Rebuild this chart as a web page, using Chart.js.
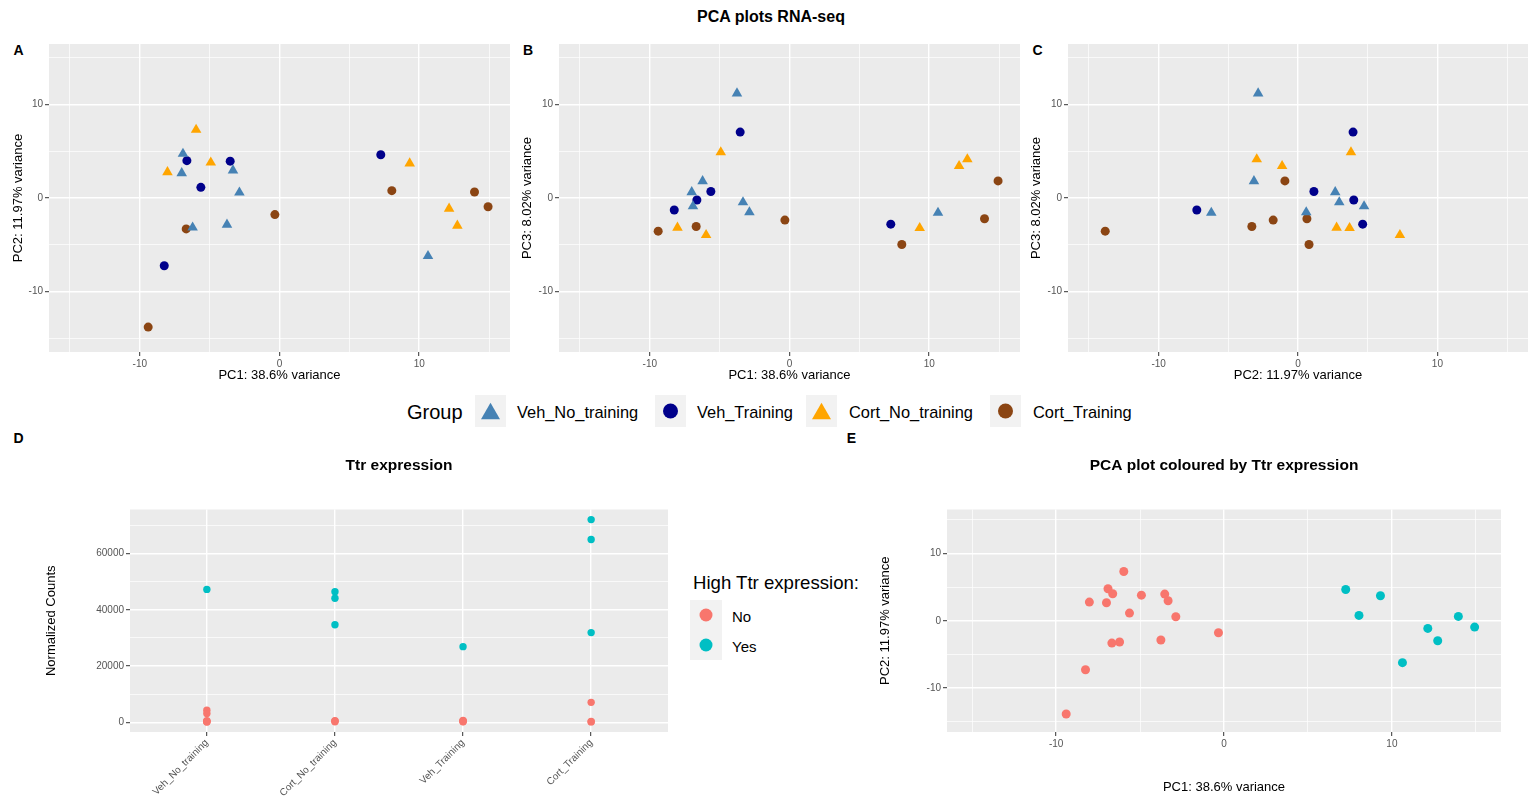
<!DOCTYPE html>
<html>
<head>
<meta charset="utf-8">
<script src="https://cdn.jsdelivr.net/npm/chart.js@4.4.1/dist/chart.umd.min.js"></script>
<style>
  html, body { margin: 0; padding: 0; background: #ffffff; }
  body { width: 1535px; height: 809px; position: relative; overflow: hidden;
         font-family: "Liberation Sans", Arial, Helvetica, sans-serif; color: #000; }
  canvas { position: absolute; display: block; }
  .t { position: absolute; white-space: nowrap; transform: translateY(-50%); line-height: 1; }
  .tc { position: absolute; white-space: nowrap; transform: translate(-50%, -50%); line-height: 1; }
  .b { font-weight: bold; }
  .key { position: absolute; background: #F2F2F2; }
  .key svg { display: block; }
</style>
</head>
<body>

<div class="tc b" style="left:771px; top:16.5px; font-size:16px;">PCA plots RNA-seq</div>
<div class="tc b" style="left:18.5px; top:50px; font-size:14px;">A</div>
<div class="tc b" style="left:528px; top:50px; font-size:14px;">B</div>
<div class="tc b" style="left:1037.5px; top:50px; font-size:14px;">C</div>
<div class="tc b" style="left:18.5px; top:438px; font-size:14px;">D</div>
<div class="tc b" style="left:851.5px; top:438px; font-size:14px;">E</div>

<canvas id="cA" width="515" height="360" style="left:0px; top:30px;"></canvas>
<canvas id="cB" width="515" height="360" style="left:515px; top:30px;"></canvas>
<canvas id="cC" width="510" height="360" style="left:1025px; top:30px;"></canvas>
<canvas id="cD" width="680" height="369" style="left:0px; top:440px;"></canvas>
<canvas id="cE" width="675" height="369" style="left:860px; top:440px;"></canvas>

<div id="groupLegend"></div>
<div id="ttrLegend"></div>

<script>
// ---------------- DATA ----------------
const groupNames  = ['Veh_No_training', 'Veh_Training', 'Cort_No_training', 'Cort_Training'];
const groupColors = ['#4682B4', '#00008B', '#FFA500', '#8B4513'];
const groupShapes = ['triangle', 'circle', 'triangle', 'circle'];

// principal component scores per group (one entry per sample)
const vehNoPC1  = [-6.91, -7.00, -3.33, -2.87, -6.22, -3.76, 10.63];
const vehNoPC2  = [ 4.74,  2.67,  2.96,  0.59, -3.16, -2.86, -6.22];
const vehNoPC3  = [-0.89,  0.62, -0.46, -1.53,  1.80, 11.20, -1.58];

const vehTrPC1  = [-6.63, -3.53, -5.63, -8.25,  7.25];
const vehTrPC2  = [ 4.00,  3.95,  1.14, -7.26,  4.64];
const vehTrPC3  = [-0.22,  7.06,  0.70, -1.29, -2.80];

const cortNoPC1 = [-5.97, -8.02, -4.92,  9.32, 12.14, 12.73];
const cortNoPC2 = [ 7.31,  2.77,  3.80,  3.70, -1.14, -2.96];
const cortNoPC3 = [-3.97, -3.18,  4.90, -3.22,  3.43,  4.15];

const cortTrPC1 = [-9.40, -6.68, -0.33,  8.04, 13.96, 14.93];
const cortTrPC2 = [-13.83, -3.31, -1.78, 0.79,  0.64, -0.94];
const cortTrPC3 = [-3.55, -3.05, -2.37, -4.98, -2.22,  1.83];

// Ttr normalized counts per sample (same sample order as above)
const vehNoTtr  = [4300, 3100, 600, 300, 200, 150, 47250];
const vehTrTtr  = [500, 300, 700, 200, 26900];
const cortNoTtr = [350, 200, 600, 46400, 44100, 34700];
const cortTrTtr = [7100, 150, 300, 72060, 65000, 31900];

const highTtrThreshold = 20000;
const highTtrLabels = ['No', 'Yes'];
const highTtrColors = ['#F8766D', '#00BFC4'];

// axes / ticks
const pcLimits = [-15, 15];
const pcTicks  = [-15, -10, -5, 0, 5, 10, 15];
const ttrTicks = [0, 10000, 20000, 30000, 40000, 50000, 60000, 70000];
const ttrCategories = ['Veh_No_training', 'Cort_No_training', 'Veh_Training', 'Cort_Training'];
const pc1Title = 'PC1: 38.6% variance';
const pc2Title = 'PC2: 11.97% variance';
const pc3Title = 'PC3: 8.02% variance';

// ---------------- HELPERS ----------------
const FONT = '"Liberation Sans", Arial, Helvetica, sans-serif';
const TICK_FONT  = { family: FONT, size: 10 };
const TITLE_FONT = { family: FONT, size: 13 };

const groupPCs = [
  { pc1: vehNoPC1,  pc2: vehNoPC2,  pc3: vehNoPC3,  ttr: vehNoTtr },
  { pc1: vehTrPC1,  pc2: vehTrPC2,  pc3: vehTrPC3,  ttr: vehTrTtr },
  { pc1: cortNoPC1, pc2: cortNoPC2, pc3: cortNoPC3, ttr: cortNoTtr },
  { pc1: cortTrPC1, pc2: cortTrPC2, pc3: cortTrPC3, ttr: cortTrTtr }
];

function expand(lo, hi, f) { const d = (hi - lo) * f; return [lo - d, hi + d]; }
const pcRange = expand(pcLimits[0], pcLimits[1], 0.05);

function isMajor(v, step) { return Math.abs(Math.round(v / step) * step - v) < 1e-9; }

const bgPlugin = {
  id: 'panelBg',
  beforeDraw(chart) {
    const { ctx, chartArea: a } = chart;
    ctx.save();
    ctx.fillStyle = '#EBEBEB';
    ctx.fillRect(a.left, a.top, a.width, a.height);
    ctx.restore();
  }
};

function axis(o) {
  return {
    type: 'linear',
    position: o.pos,
    min: o.min, max: o.max,
    afterBuildTicks: s => { s.ticks = o.ticks.map(v => ({ value: v })); },
    afterFit: s => { if (o.pos === 'left') s.width = o.size; else s.height = o.size; },
    ticks: {
      autoSkip: false,
      font: TICK_FONT,
      color: '#555555',
      padding: o.tickPad != null ? o.tickPad : 2,
      minRotation: o.rot || 0,
      maxRotation: o.rot || 0,
      callback: o.label || (v => isMajor(v, o.major) ? String(v) : '')
    },
    grid: {
      color: '#FFFFFF',
      lineWidth: c => (c.tick && isMajor(c.tick.value, o.major)) ? 1.4 : 0.7,
      tickColor: c => (c.tick && isMajor(c.tick.value, o.major)) ? '#333333' : 'rgba(0,0,0,0)',
      tickLength: 4,
      tickWidth: 1,
      drawTicks: true
    },
    border: { display: false },
    title: {
      display: !!o.title,
      text: o.title || '',
      font: TITLE_FONT,
      color: '#000000',
      padding: o.pos === 'left' ? { top: o.titlePad, bottom: 0 } : { top: 0, bottom: o.titlePad }
    }
  };
}

function baseOptions(pad, scales, title) {
  return {
    responsive: false,
    animation: false,
    devicePixelRatio: 1,
    events: [],
    layout: { padding: pad, autoPadding: false },
    plugins: {
      legend: { display: false },
      tooltip: { enabled: false },
      title: title || { display: false }
    },
    scales: scales
  };
}

function groupDatasets(xKey, yKey) {
  return groupNames.map((name, g) => ({
    label: name,
    data: groupPCs[g][xKey].map((v, i) => ({ x: v, y: groupPCs[g][yKey][i] })),
    pointStyle: groupShapes[g],
    pointRadius: groupShapes[g] === 'triangle' ? 6.1 : 4.5,
    backgroundColor: groupColors[g],
    borderColor: groupColors[g],
    borderWidth: 0
  }));
}

function pcaPanel(id, xKey, yKey, xTitle, yTitle, yW, padRight, yTitlePad) {
  new Chart(document.getElementById(id), {
    type: 'scatter',
    data: { datasets: groupDatasets(xKey, yKey) },
    options: baseOptions(
      { top: 14, right: padRight, bottom: 0, left: 0 },
      {
        x: axis({ pos: 'bottom', min: pcRange[0], max: pcRange[1], ticks: pcTicks, major: 10,
                  size: 38, title: xTitle, titlePad: 7 }),
        y: axis({ pos: 'left', min: pcRange[0], max: pcRange[1], ticks: pcTicks, major: 10,
                  size: yW, title: yTitle, titlePad: yTitlePad })
      }
    ),
    plugins: [bgPlugin]
  });
}

// ---------------- PANELS A, B, C ----------------
pcaPanel('cA', 'pc1', 'pc2', pc1Title, pc2Title, 49, 5, 10.5);
pcaPanel('cB', 'pc1', 'pc3', pc1Title, pc3Title, 44, 10, 5);
pcaPanel('cC', 'pc2', 'pc3', pc2Title, pc3Title, 43, 7, 4);

// ---------------- PANEL D : Ttr expression ----------------
const dPoints = [[], []];
groupNames.forEach((name, g) => {
  const xi = ttrCategories.indexOf(name) + 1;
  groupPCs[g].ttr.forEach(v => {
    dPoints[v > highTtrThreshold ? 1 : 0].push({ x: xi, y: v });
  });
});
const allTtr = groupPCs.flatMap(g => g.ttr);
const ttrRange = expand(Math.min(...allTtr), Math.max(...allTtr), 0.05);

new Chart(document.getElementById('cD'), {
  type: 'scatter',
  data: {
    datasets: highTtrLabels.map((lab, k) => ({
      label: lab, data: dPoints[k], pointStyle: 'circle', pointRadius: 3.7,
      backgroundColor: highTtrColors[k], borderColor: highTtrColors[k], borderWidth: 0
    }))
  },
  options: baseOptions(
    { top: 0, right: 12, bottom: 0, left: 0 },
    {
      x: axis({ pos: 'bottom', min: 0.4, max: ttrCategories.length + 0.6,
                ticks: ttrCategories.map((c, i) => i + 1), major: 1, size: 77, rot: 45,
                label: v => ttrCategories[Math.round(v) - 1], tickPad: 1 }),
      y: axis({ pos: 'left', min: ttrRange[0], max: ttrRange[1], ticks: ttrTicks, major: 20000,
                size: 130, title: 'Normalized Counts', titlePad: 44 })
    },
    { display: true, text: 'Ttr expression', fullSize: false, color: '#000000',
      font: { family: FONT, size: 15.5, weight: 'bold' }, padding: { top: 16.7, bottom: 34.2 } }
  ),
  plugins: [bgPlugin]
});

// ---------------- PANEL E : PCA coloured by Ttr ----------------
const ePoints = [[], []];
groupPCs.forEach(g => {
  g.pc1.forEach((v, i) => {
    ePoints[g.ttr[i] > highTtrThreshold ? 1 : 0].push({ x: v, y: g.pc2[i] });
  });
});

new Chart(document.getElementById('cE'), {
  type: 'scatter',
  data: {
    datasets: highTtrLabels.map((lab, k) => ({
      label: lab, data: ePoints[k], pointStyle: 'circle', pointRadius: 4.5,
      backgroundColor: highTtrColors[k], borderColor: highTtrColors[k], borderWidth: 0
    }))
  },
  options: baseOptions(
    { top: 0, right: 34, bottom: 0, left: 0 },
    {
      x: axis({ pos: 'bottom', min: pcRange[0], max: pcRange[1], ticks: pcTicks, major: 10,
                size: 77, title: pc1Title, titlePad: 13.5 }),
      y: axis({ pos: 'left', min: pcRange[0], max: pcRange[1], ticks: pcTicks, major: 10,
                size: 87, title: pc2Title, titlePad: 17.5 })
    },
    { display: true, text: 'PCA plot coloured by Ttr expression', fullSize: false, color: '#000000',
      font: { family: FONT, size: 15.5, weight: 'bold' }, padding: { top: 16.7, bottom: 34.2 } }
  ),
  plugins: [bgPlugin]
});

// ---------------- LEGENDS (HTML) ----------------
function markerSVG(shape, color, w, h) {
  const cx = w / 2, cy = h / 2;
  let inner;
  if (shape === 'triangle') {
    const tw = 19, th = 16.5;
    inner = `<polygon points="${cx - tw / 2},${cy + th / 2} ${cx + tw / 2},${cy + th / 2} ${cx},${cy - th / 2}" fill="${color}"/>`;
  } else {
    inner = `<circle cx="${cx}" cy="${cy}" r="${shape === 'small' ? 6.5 : 7.5}" fill="${color}"/>`;
  }
  return `<svg width="${w}" height="${h}">${inner}</svg>`;
}

(function groupLegend() {
  const host = document.getElementById('groupLegend');
  const keyLeft  = [475, 655, 806, 990];
  const textLeft = [517, 697, 849, 1033];
  let html = `<div class="t" style="left:407px; top:412px; font-size:20px;">Group</div>`;
  groupNames.forEach((n, g) => {
    html += `<div class="key" style="left:${keyLeft[g]}px; top:395px; width:31px; height:32px;">${markerSVG(groupShapes[g], groupColors[g], 31, 32)}</div>`;
    html += `<div class="t" style="left:${textLeft[g]}px; top:412px; font-size:16.4px;">${n}</div>`;
  });
  host.innerHTML = html;
})();

(function ttrLegend() {
  const host = document.getElementById('ttrLegend');
  let html = `<div class="t" style="left:693px; top:583px; font-size:18.6px;">High Ttr expression:</div>`;
  highTtrLabels.forEach((lab, k) => {
    const top = 600 + k * 30;
    html += `<div class="key" style="left:690px; top:${top}px; width:32px; height:30px;">${markerSVG('small', highTtrColors[k], 32, 30)}</div>`;
    html += `<div class="t" style="left:732px; top:${top + 15.5}px; font-size:15px;">${lab}</div>`;
  });
  host.innerHTML = html;
})();
</script>
</body>
</html>
